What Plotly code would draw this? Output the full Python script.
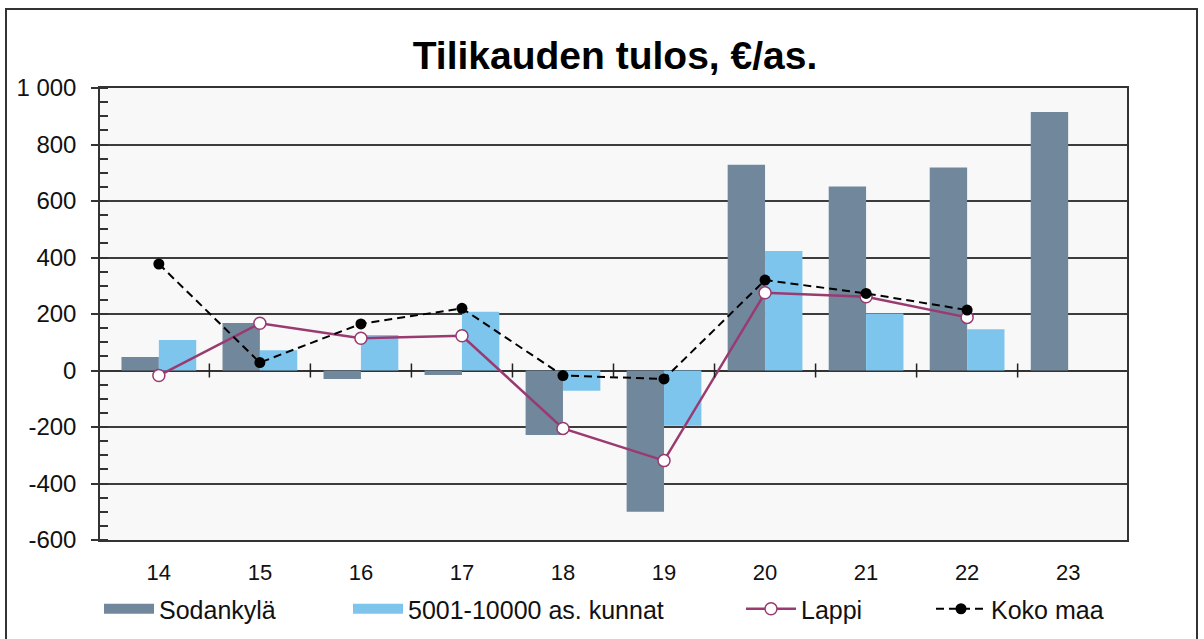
import plotly.graph_objects as go

years = ["14", "15", "16", "17", "18", "19", "20", "21", "22", "23"]
sodankyla = [48, 168, -30, -16, -228, -500, 728, 651, 719, 915]
kunnat_5001_10000 = [108, 72, 126, 208, -72, -196, 423, 202, 146, None]
lappi = [-18, 167, 114, 123, -205, -319, 275, 261, 188, None]
koko_maa = [377, 28, 165, 220, -18, -30, 320, 273, 214, None]

y_tickvals = [-600, -400, -200, 0, 200, 400, 600, 800, 1000]
y_ticktext = ["-600", "-400", "-200", "0", "200", "400", "600", "800", "1 000"]

title_text = "Tilikauden tulos, €/as."
names = ["Sodankylä", "5001-10000 as. kunnat", "Lappi", "Koko maa"]

C_SOD = "#71879b"
C_KUN = "#7ec5ee"
C_LAP = "#993a70"
C_KOK = "#000000"
FONT = "Liberation Sans, Arial, sans-serif"

fig = go.Figure()
fig.add_trace(go.Bar(x=years, y=sodankyla, name=names[0], marker_color=C_SOD,
                     marker_line_width=0, showlegend=False))
fig.add_trace(go.Bar(x=years, y=kunnat_5001_10000, name=names[1], marker_color=C_KUN,
                     marker_line_width=0, showlegend=False))
fig.add_trace(go.Scatter(x=years, y=lappi, name=names[2], mode="lines+markers",
                         line=dict(color=C_LAP, width=2.5),
                         marker=dict(symbol="circle", size=12, color="white",
                                     line=dict(color=C_LAP, width=1.5)),
                         legend="legend3"))
fig.add_trace(go.Scatter(x=years, y=koko_maa, name=names[3], mode="lines+markers",
                         line=dict(color=C_KOK, width=2, dash="8px,5px"),
                         marker=dict(symbol="circle", size=11, color=C_KOK),
                         legend="legend4"))
# legend-only entries with wide swatches for the bar series
fig.add_trace(go.Scatter(x=[None], y=[None], name=names[0], mode="lines",
                         line=dict(color=C_SOD, width=13), legend="legend"))
fig.add_trace(go.Scatter(x=[None], y=[None], name=names[1], mode="lines",
                         line=dict(color=C_KUN, width=13), legend="legend2"))

# x-axis tick marks at category boundaries on the zero line
for i in range(len(years) - 1):
    fig.add_shape(type="line", xref="x", yref="y", x0=i + 0.5, x1=i + 0.5,
                  ysizemode="pixel", yanchor=0, y0=-7, y1=7,
                  line=dict(color="#222", width=1.5), layer="above")

# outer frame
fig.add_shape(type="rect", xref="paper", yref="paper",
              x0=(6 - 100) / 1027, x1=(1197 - 100) / 1027,
              y0=(540 - 660) / 452, y1=(540 - 9) / 452,
              line=dict(color="#333", width=2), fillcolor="rgba(0,0,0,0)", layer="below")

leg_common = dict(orientation="h", yanchor="middle", y=(540 - 609) / 452,
                  xanchor="left", font=dict(family=FONT, size=25, color="#111"),
                  bgcolor="rgba(0,0,0,0)", borderwidth=0, itemwidth=50)

fig.update_layout(
    width=1204, height=639,
    margin=dict(l=100, r=77, t=88, b=99, autoexpand=False),
    paper_bgcolor="white", plot_bgcolor="#f8f8f8",
    barmode="group", bargap=0.26, bargroupgap=0,
    title=dict(text=title_text, x=(615 / 1204), xanchor="center",
               y=1 - 55 / 639, yanchor="middle", yref="container",
               font=dict(family=FONT, size=39, color="#000", weight="bold")),
    font=dict(family=FONT, color="#111"),
    legend=dict(x=(99 - 100) / 1027, **leg_common),
    legend2=dict(x=(348 - 100) / 1027, **leg_common),
    legend3=dict(x=(741 - 100) / 1027, **leg_common),
    legend4=dict(x=(931 - 100) / 1027, **leg_common),
    xaxis=dict(type="category", showgrid=False, ticks="", showline=True, mirror=True,
               linecolor="#333", linewidth=1.5,
               tickfont=dict(family=FONT, size=22, color="#111"),
               ticklabelstandoff=12, zeroline=False, automargin=False),
    yaxis=dict(range=[-600, 1000], tickvals=y_tickvals, ticktext=y_ticktext,
               showgrid=True, gridcolor="#3c3c3c", gridwidth=1.5,
               zeroline=True, zerolinecolor="#333", zerolinewidth=1.5,
               showline=True, mirror=True, linecolor="#333", linewidth=1.5,
               ticks="outside", ticklen=7, tickwidth=1.5, tickcolor="#333",
               minor=dict(ticks="inside", ticklen=8, tickwidth=1.5, tickcolor="#333",
                          dtick=50, showgrid=False),
               tickfont=dict(family=FONT, size=24, color="#111"),
               ticklabelstandoff=10, automargin=False),
)

fig.write_html("out.html", config={"displayModeBar": False},
               post_script="document.body.style.margin='0';")
